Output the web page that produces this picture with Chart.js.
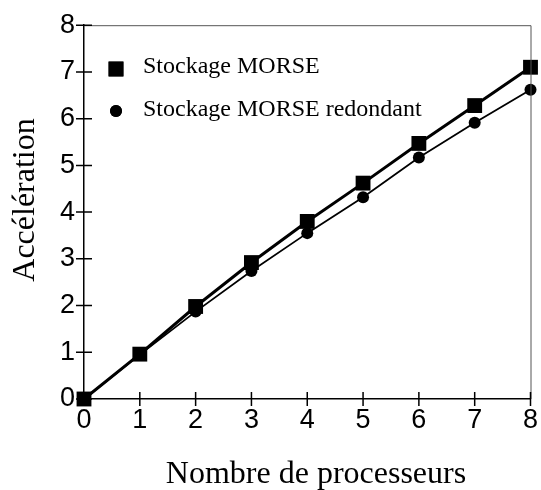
<!DOCTYPE html>
<html>
<head>
<meta charset="utf-8">
<script src="https://cdn.jsdelivr.net/npm/chart.js@4/dist/chart.umd.min.js"></script>
<style>
html,body{margin:0;padding:0;background:#fff;}
#wrap{width:541px;height:490px;position:relative;}
</style>
</head>
<body>
<div id="wrap"><canvas id="c" width="541" height="490"></canvas></div>
<script>
// Data
const processors = [0, 1, 2, 3, 4, 5, 6, 7, 8];
const morse = [0, 0.96, 1.98, 2.92, 3.80, 4.62, 5.47, 6.28, 7.10];
const morseRedondant = [0, 0.95, 1.87, 2.74, 3.55, 4.32, 5.17, 5.91, 6.62];
const seriesLabels = ['Stockage MORSE', 'Stockage MORSE redondant'];
const xTitle = 'Nombre de processeurs';
const yTitle = 'Accélération';
const xTicks = [0, 1, 2, 3, 4, 5, 6, 7, 8];
const yTicks = [0, 1, 2, 3, 4, 5, 6, 7, 8];

const pts = (ys) => processors.map((x, i) => ({x: x, y: ys[i]}));

const extras = {
  id: 'extras',
  afterDraw(chart) {
    const ctx = chart.ctx;
    const xs = chart.scales.x, ys = chart.scales.y;
    const a = chart.chartArea;
    ctx.save();
    // frame top/right
    ctx.strokeStyle = '#555';
    ctx.lineWidth = 1;
    ctx.beginPath();
    ctx.moveTo(a.left, a.top + 0.5); ctx.lineTo(a.right + 0.5, a.top + 0.5);
    ctx.lineTo(a.right + 0.5, a.bottom);
    ctx.stroke();
    // crossing ticks
    ctx.strokeStyle = '#000';
    ctx.lineWidth = 1.5;
    ctx.beginPath();
    xTicks.forEach(v => {
      const px = xs.getPixelForValue(v);
      ctx.moveTo(px, a.bottom - 7); ctx.lineTo(px, a.bottom + 7);
    });
    yTicks.forEach(v => {
      const py = ys.getPixelForValue(v);
      ctx.moveTo(a.left - 8, py); ctx.lineTo(a.left + 8, py);
    });
    ctx.stroke();
    // titles
    ctx.fillStyle = '#000';
    ctx.font = '32px "Liberation Serif", "Times New Roman", serif';
    ctx.textAlign = 'center';
    ctx.textBaseline = 'alphabetic';
    ctx.fillText(xTitle, 316, 483);
    ctx.save();
    ctx.translate(34, 200);
    ctx.rotate(-Math.PI / 2);
    ctx.fillText(yTitle, 0, 0);
    ctx.restore();
    // legend
    ctx.font = '24px "Liberation Serif", "Times New Roman", serif';
    ctx.textAlign = 'left';
    const legendRows = [{y: 69, text: 73}, {y: 111, text: 116}];
    chart.data.datasets.forEach((ds, i) => {
      const r = legendRows[i];
      Chart.helpers.drawPoint(ctx, {pointStyle: ds.pointStyle, radius: ds.pointRadius, borderWidth: 0}, 116, r.y);
      ctx.fillStyle = '#000';
      ctx.fill();
      ctx.fillText(ds.label, 143, r.text);
    });
    ctx.restore();
  }
};

new Chart(document.getElementById('c'), {
  type: 'scatter',
  data: {
    datasets: [
      {
        label: seriesLabels[0],
        data: pts(morse),
        showLine: true,
        borderColor: '#000',
        backgroundColor: '#000',
        borderWidth: 3,
        pointStyle: 'rect',
        pointRadius: 10.5,
        pointBorderWidth: 0,
        clip: false
      },
      {
        label: seriesLabels[1],
        data: pts(morseRedondant),
        showLine: true,
        borderColor: '#000',
        backgroundColor: '#000',
        borderWidth: 1.8,
        pointStyle: 'circle',
        pointRadius: 6,
        pointBorderWidth: 0,
        clip: false
      }
    ]
  },
  options: {
    responsive: false,
    animation: false,
    layout: {padding: {top: 24, right: 0, left: 0, bottom: 0}},
    plugins: {legend: {display: false}, tooltip: {enabled: false}},
    scales: {
      x: {
        type: 'linear', min: 0, max: 8,
        afterBuildTicks: (s) => { s.ticks = xTicks.map(v => ({value: v})); },
        afterFit: (s) => { s.height = 91; s.paddingRight = 10; },
        grid: {display: true, drawOnChartArea: false, drawTicks: false},
        border: {display: true, color: '#000', width: 1.5},
        ticks: {color: '#000', padding: 5, font: {family: '"Liberation Sans", Arial, sans-serif', size: 27}}
      },
      y: {
        type: 'linear', min: 0, max: 8,
        afterBuildTicks: (s) => { s.ticks = yTicks.map(v => ({value: v})); },
        afterFit: (s) => { s.width = 84; },
        grid: {display: true, drawOnChartArea: false, drawTicks: false},
        border: {display: true, color: '#000', width: 1.5},
        ticks: {color: '#000', padding: 9, font: {family: '"Liberation Sans", Arial, sans-serif', size: 27}}
      }
    }
  },
  plugins: [extras]
});
</script>
</body>
</html>
